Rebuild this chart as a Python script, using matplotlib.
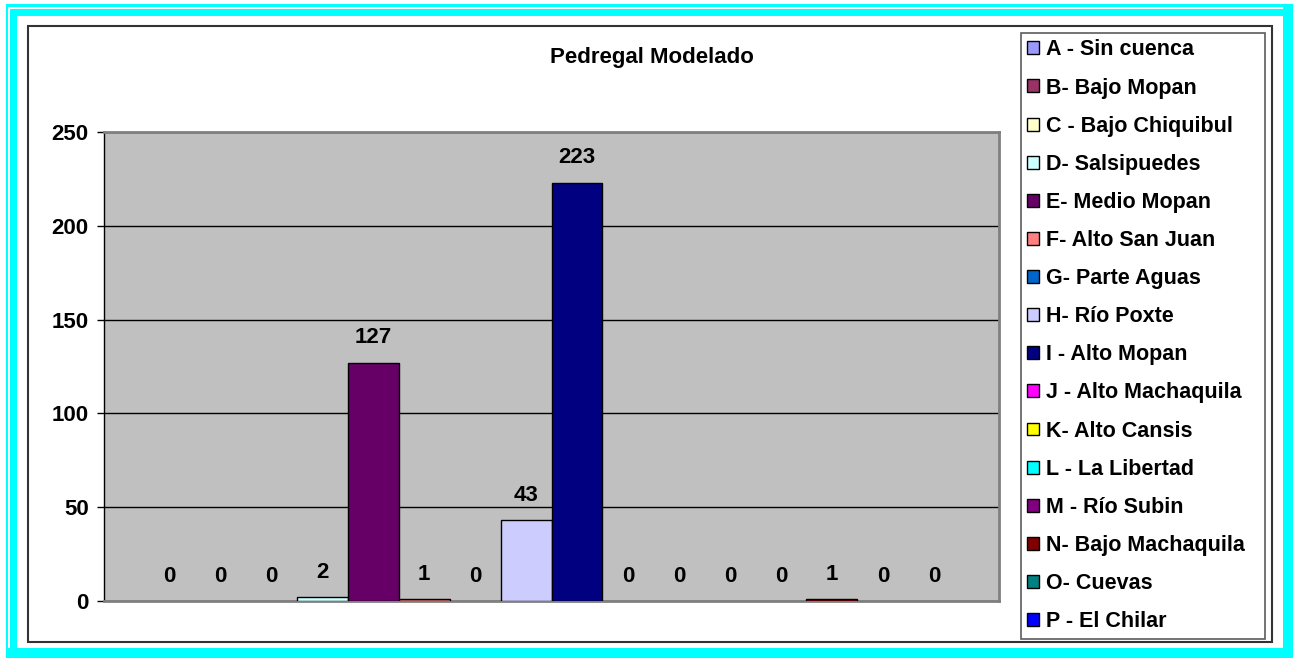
import matplotlib
matplotlib.use("Agg")
import matplotlib.pyplot as plt
from matplotlib.patches import Rectangle, Patch

# ---- data ----
series_names = ["A - Sin cuenca", "B- Bajo Mopan", "C - Bajo Chiquibul", "D- Salsipuedes",
                "E- Medio Mopan", "F- Alto San Juan", "G- Parte Aguas", "H- Río Poxte",
                "I - Alto Mopan", "J - Alto Machaquila", "K- Alto Cansis", "L - La Libertad",
                "M - Río Subin", "N- Bajo Machaquila", "O- Cuevas", "P - El Chilar"]
values = [0, 0, 0, 2, 127, 1, 0, 43, 223, 0, 0, 0, 0, 1, 0, 0]
colors = ["#9999FF", "#993366", "#FFFFCC", "#CCFFFF", "#660066", "#FF8080", "#0066CC", "#CCCCFF",
          "#000080", "#FF00FF", "#FFFF00", "#00FFFF", "#800080", "#800000", "#008080", "#0000FF"]
yticks = [0, 50, 100, 150, 200, 250]
title = "Pedregal Modelado"

W, H = 1293, 658
plt.rcParams['font.family'] = ['Liberation Sans', 'DejaVu Sans']
fig = plt.figure(figsize=(W / 100, H / 100), dpi=100)
fig.patch.set_facecolor("white")


def px_rect(x0, y0, x1, y1, **kw):
    r = Rectangle((x0 / W, 1 - y1 / H), (x1 - x0) / W, (y1 - y0) / H,
                  transform=fig.transFigure, **kw)
    fig.add_artist(r)
    return r


# cyan frame
px_rect(6, 4, 1293, 658, facecolor="#00FFFF", edgecolor="none", zorder=0)
px_rect(17, 16, 1283, 648, facecolor="white", edgecolor="none", zorder=0)
# thin white lines (double-line look on left and top)
px_rect(7.5, 6.5, 9.5, 648, facecolor="white", edgecolor="none", zorder=0)
px_rect(7.5, 6.5, 1283, 8.5, facecolor="white", edgecolor="none", zorder=0)
# chart area frame
px_rect(28, 26, 1272, 642, facecolor="none", edgecolor="#333333", linewidth=1.5, zorder=1)

# plot area
L, T, R, B = 104, 132, 999, 601
ax = fig.add_axes([L / W, 1 - B / H, (R - L) / W, (B - T) / H])
ax.set_facecolor("#C0C0C0")

n = len(values)
xs = list(range(n))
for x, v, c, name in zip(xs, values, colors, series_names):
    ax.bar(x, v, width=1.0, color=c, edgecolor="black",
           linewidth=(1.0 if v > 0 else 0), zorder=3, label=name)
    ax.annotate(str(v), (x, v), xytext=(0, 18), textcoords="offset points",
                ha="center", va="center", fontsize=16, fontweight="bold", zorder=4)

ax.set_xlim(-1.275, n - 1 + 1.275)
ax.set_ylim(0, 250)
ax.set_yticks(yticks)
ax.set_yticklabels([str(t) for t in yticks], fontsize=16, fontweight="bold")
ax.set_xticks([])
ax.yaxis.grid(True, color="black", linewidth=1.0, zorder=1)
ax.set_axisbelow(True)
ax.tick_params(axis="y", direction="out", length=5, width=1, pad=6, colors="black")
for s in ["top", "right", "bottom"]:
    ax.spines[s].set_color("#808080")
    ax.spines[s].set_linewidth(2)
ax.spines["left"].set_color("black")
ax.spines["left"].set_linewidth(1)

# title
fig.text(652 / W, 1 - 57 / H, title, ha="center", va="center",
         fontsize=16, fontweight="bold")

# legend
handles = [Patch(facecolor=c, edgecolor="black", linewidth=1.0) for c in colors]
leg = fig.legend(handles, series_names,
                 loc="upper left",
                 bbox_to_anchor=(1021 / W, 1 - 33 / H - 0.01, (1265 - 1021) / W, 0.01),
                 mode="expand",
                 prop={"size": 15.5, "weight": "bold"},
                 frameon=True, fancybox=False, edgecolor="#333333",
                 handlelength=0.55, handleheight=0.55, handletextpad=0.3,
                 labelspacing=0.795, borderpad=0.3, borderaxespad=0.0)
leg.get_frame().set_linewidth(1.2)
leg.get_frame().set_facecolor("white")

fig.savefig("out.png", dpi=100)
